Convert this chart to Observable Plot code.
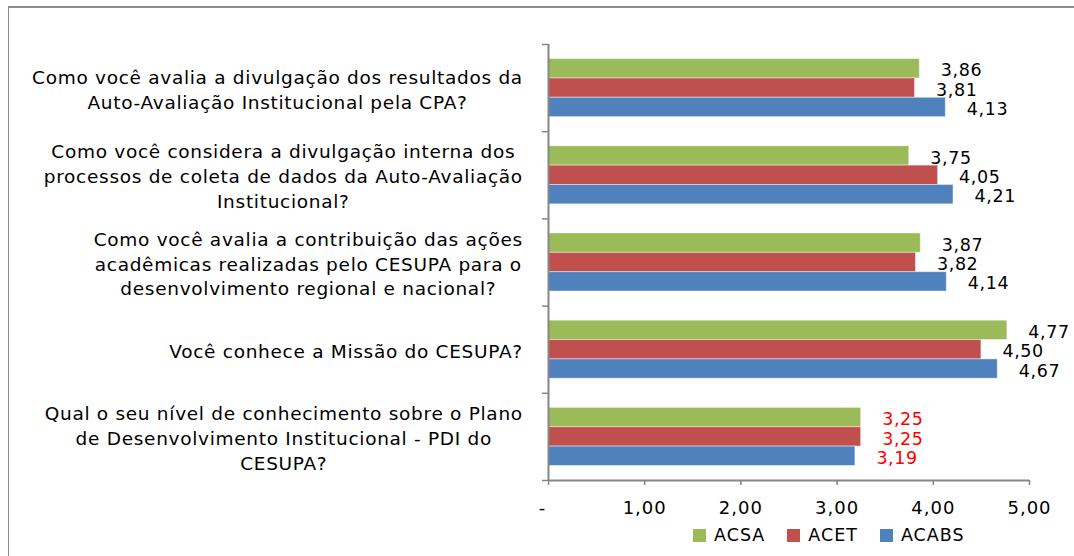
<!DOCTYPE html>
<html>
<head>
<meta charset="utf-8">
<script src="https://cdn.jsdelivr.net/npm/d3@7"></script>
<script src="https://cdn.jsdelivr.net/npm/@observablehq/plot@0.6"></script>
<style>
  html, body { margin: 0; padding: 0; background: #fff; }
  body { width: 1074px; height: 556px; position: relative; overflow: hidden; font-family: "DejaVu Sans", sans-serif; }
  #frame { position: absolute; left: 8px; top: 6px; width: 1100px; height: 600px;
           border-top: 2px solid #8c8c8c; border-left: 1.5px solid #8c8c8c; pointer-events: none; }
  #chart svg { display: block; }
  #chart g[font-size="18.5"] { letter-spacing: 0.7px; }
  #chart g[font-size="18"] { letter-spacing: 1px; }
  #chart g[font-size="17.5"] { letter-spacing: 0.6px; }
  #legend { display: flex; align-items: center; height: 22px; padding-left: 693px;
            font-size: 17.5px; letter-spacing: 1px; color: #000; }
  #legend .item { display: flex; align-items: center; margin-right: 22px; }
  #legend .sw { width: 13px; height: 13px; margin-right: 8px; }
</style>
</head>
<body>
<div id="chart"></div>
<div id="legend"></div>
<div id="frame"></div>
<script>
// ---- data ----
const questions = [
  "Como você avalia a divulgação dos resultados da\nAuto-Avaliação Institucional pela CPA?",
  "Como você considera a divulgação interna dos\nprocessos de coleta de dados da Auto-Avaliação\nInstitucional?",
  "Como você avalia a contribuição das ações\nacadêmicas realizadas pelo CESUPA para o\ndesenvolvimento regional e nacional?",
  "Você conhece a Missão do CESUPA?",
  "Qual o seu nível de conhecimento sobre o Plano\nde Desenvolvimento Institucional - PDI do\nCESUPA?"
];
const seriesNames = ["ACSA", "ACET", "ACABS"];
const acsa  = [3.86, 3.75, 3.87, 4.77, 3.25];
const acet  = [3.81, 4.05, 3.82, 4.50, 3.25];
const acabs = [4.13, 4.21, 4.14, 4.67, 3.19];
const xTicks = [0, 1, 2, 3, 4, 5];
const xTickLabels = ["-", "1,00", "2,00", "3,00", "4,00", "5,00"];

// ---- styles ----
const colors = ["#9BBB59", "#C0504D", "#4F81BD"];
const axisColor = "#868686";
const flaggedQuestion = 4;          // labels drawn in red
const barFrac = 0.222;              // bar thickness as a fraction of a category band
const bandPad = (1 - 3 * barFrac) / 2;
const catFont = 18.5, catSpacing = 0.7, catGap = 26;

// table built from the arrays
const seriesValues = [acsa, acet, acabs];
const rows = [];
questions.forEach((q, i) => {
  seriesNames.forEach((s, k) => {
    rows.push({question: q, qi: i, series: s, si: k, value: seriesValues[k][i]});
  });
});
const fmt = v => v.toFixed(2).replace(".", ",");

// measure label lines so each multi-line label is centred within its own block
const ctx = document.createElement("canvas").getContext("2d");
ctx.font = `${catFont}px "DejaVu Sans"`;
const blockWidth = q => Math.max(...q.split("\n").map(l => ctx.measureText(l).width + l.length * catSpacing));

const categoryMarks = questions.map((q, i) => Plot.text([q], {
  x: () => 0,
  y: () => i + 0.5,
  text: d => d,
  textAnchor: "middle",
  lineAnchor: "middle",
  lineHeight: 1.35,
  dx: -(catGap + blockWidth(q) / 2 - catSpacing / 2),
  fontSize: catFont,
  fill: "#000"
}));

const chart = Plot.plot({
  width: 1074,
  height: 524,
  marginLeft: 548,
  marginRight: 45,
  marginTop: 44,
  marginBottom: 44,
  style: {fontFamily: "DejaVu Sans", background: "transparent"},
  x: {domain: [0, 5], axis: null},
  y: {domain: [5, 0], axis: null},
  color: {domain: seriesNames, range: colors},
  marks: [
    Plot.rect(rows, {
      x1: () => 0,
      x2: "value",
      y1: d => d.qi + bandPad + d.si * barFrac,
      y2: d => d.qi + bandPad + (d.si + 1) * barFrac,
      fill: "series",
      stroke: "#ffffff",
      strokeOpacity: 0.45,
      strokeWidth: 1
    }),
    // y axis: line + ticks between categories
    Plot.ruleX([0], {stroke: axisColor, strokeWidth: 2}),
    Plot.axisY({ticks: d3.range(questions.length + 1), tickSize: 6, tickFormat: () => "", label: null, stroke: axisColor, strokeWidth: 1.5}),
    // x axis: line + ticks + labels
    Plot.ruleY([questions.length], {stroke: axisColor, strokeWidth: 2}),
    Plot.axisX({ticks: xTicks, tickSize: 5, tickFormat: () => "", label: null, stroke: axisColor, strokeWidth: 1.5}),
    Plot.text(xTicks.slice(1), {
      x: d => d, frameAnchor: "bottom", dy: 33,
      text: d => xTickLabels[xTicks.indexOf(d)],
      fontSize: 18, fill: "#000"
    }),
    Plot.text(xTicks.slice(0, 1), {
      x: d => d, frameAnchor: "bottom", dy: 33, dx: -6,
      text: d => xTickLabels[xTicks.indexOf(d)],
      fontSize: 18, fill: "#000"
    }),
    ...categoryMarks,
    Plot.text(rows, {
      x: "value",
      y: d => d.qi + bandPad + (d.si + 0.5) * barFrac,
      text: d => fmt(d.value),
      textAnchor: "start",
      dx: 21, dy: 2,
      fontSize: 17.5,
      fill: d => d.qi === flaggedQuestion ? "#FF0000" : "#000000"
    })
  ]
});
document.getElementById("chart").appendChild(chart);

// legend below the svg
const legend = document.getElementById("legend");
seriesNames.forEach((s, k) => {
  const item = document.createElement("div");
  item.className = "item";
  const sw = document.createElement("div");
  sw.className = "sw";
  sw.style.background = colors[k];
  const label = document.createElement("span");
  label.textContent = s;
  item.appendChild(sw);
  item.appendChild(label);
  legend.appendChild(item);
});
</script>
</body>
</html>
